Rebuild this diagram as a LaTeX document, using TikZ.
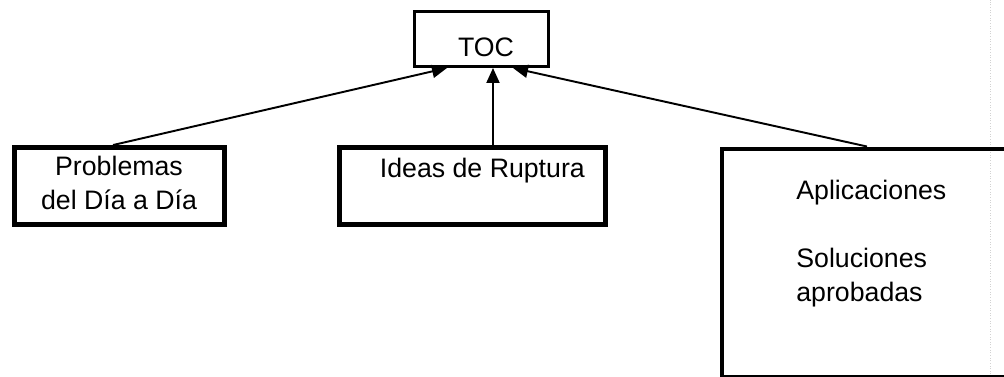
\documentclass[tikz,border=0pt]{standalone}
\usepackage{fontspec}
\setmainfont{Liberation Sans}
\usetikzlibrary{arrows.meta,positioning}

\tikzset{
    box/.style = {draw, rectangle, line width=2.8pt, inner sep=0pt},
    topbox/.style = {draw, rectangle, line width=1.7pt, inner sep=0pt},
    txt/.style = {inner sep=0pt, font=\fontsize{15.2}{19.4}\selectfont},
    link/.style = {line width=1.1pt, -{Triangle[length=0.3cm,width=0.26cm]}}
}

\begin{document}
\begin{tikzpicture}
    \useasboundingbox (0,0) rectangle (20.08,7.54);
    % faint edge of the scanned page
    \draw[gray!35, densely dotted, line width=0.5pt] (19.80,0) -- (19.80,7.54);

    \node[topbox, minimum width=2.68cm, minimum height=1.10cm] (toc) at (9.63,6.76) {};
    \node[box, minimum width=4.20cm, minimum height=1.54cm] (dia) at (2.39,3.82) {};
    \node[box, minimum width=5.32cm, minimum height=1.54cm] (ruptura) at (9.45,3.82) {};
    \node[box, minimum width=5.96cm, minimum height=4.56cm] (aplic) at (17.42,2.28) {};

    \node[txt] (toctxt) at ([shift={(0.09,-0.16)}]toc.center) {TOC};
    \node[txt, align=center, anchor=north] (diatxt) at ([shift={(-0.01,-0.21)}]dia.north) {Problemas\\del Día a Día};
    \node[txt, anchor=north west] (ruptxt) at ([shift={(0.85,-0.25)}]ruptura.north west) {Ideas de Ruptura};
    \node[txt, align=left, anchor=north west] (apltxt) at ([shift={(1.53,-0.66)}]aplic.north west) {Aplicaciones\\[19.4pt]Soluciones\\aprobadas};

    \draw[link] ([xshift=-0.13cm]dia.north) -- ([xshift=-0.69cm]toc.south);
    \draw[link] ([xshift=0.41cm]ruptura.north) -- ([xshift=0.23cm]toc.south);
    \draw[link] ([xshift=-0.08cm]aplic.north) -- ([xshift=0.63cm]toc.south);
\end{tikzpicture}
\end{document}
